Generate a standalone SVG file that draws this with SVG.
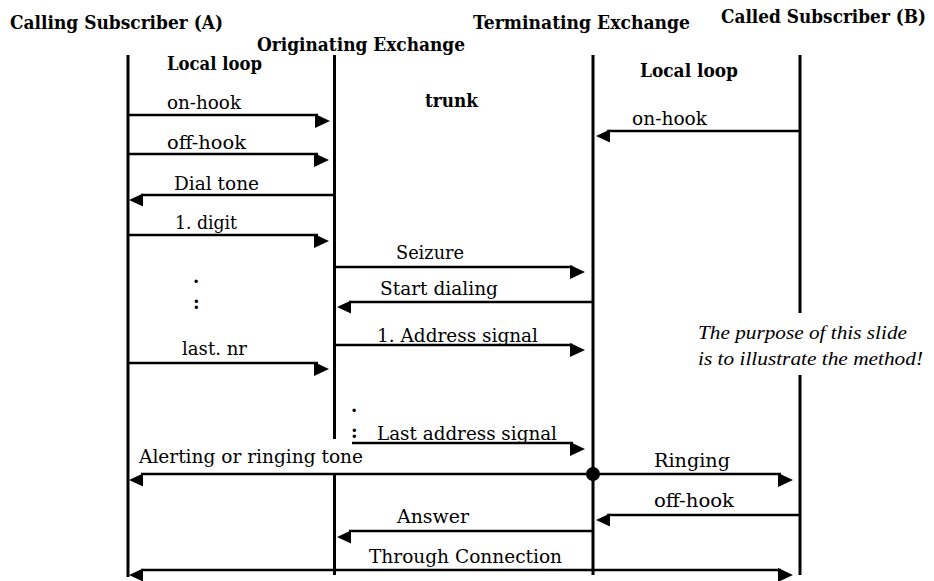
<svg xmlns="http://www.w3.org/2000/svg" xmlns:xlink="http://www.w3.org/1999/xlink" width="934" height="581" viewBox="0 0 934 581">
<style>
.life{stroke:#000;stroke-width:3;fill:none}
.msg{stroke:#000;stroke-width:2.6;fill:none}
.hd{font-family:"DejaVu Serif","Liberation Serif",serif;font-weight:bold;font-size:18px;fill:#000}
.lb{font-family:"DejaVu Serif","Liberation Serif",serif;font-size:18px;fill:#000}
.note{font-family:"Liberation Serif","DejaVu Serif",serif;font-style:italic;font-size:18px;fill:#000}
</style>
<defs>
<path id="ahR" d="M-15,-7 L0,0 L-15,7 Z" fill="#000"/>
<path id="ahL" d="M14,-6.5 L0,0 L14,6.5 Z" fill="#000"/>
</defs>
<rect width="934" height="581" fill="#fff"/>

<g id="subscriberA">
<line class="life" x1="128" y1="55" x2="128" y2="577"/>
<text class="hd" x="10" y="29" textLength="213" lengthAdjust="spacingAndGlyphs">Calling Subscriber (A)</text>
</g>
<g id="originatingExchange">
<line class="life" x1="334.5" y1="55" x2="334.5" y2="575"/>
<text class="hd" x="257" y="51" textLength="208" lengthAdjust="spacingAndGlyphs">Originating Exchange</text>
</g>
<g id="terminatingExchange">
<line class="life" x1="593" y1="55" x2="593" y2="575"/>
<text class="hd" x="473" y="29" textLength="217" lengthAdjust="spacingAndGlyphs">Terminating Exchange</text>
</g>
<g id="subscriberB">
<line class="life" x1="800" y1="55" x2="800" y2="313"/>
<line class="life" x1="800" y1="375" x2="800" y2="575"/>
<text class="hd" x="926" y="23" font-size="17" text-anchor="end" textLength="205" lengthAdjust="spacingAndGlyphs">Called Subscriber (B)</text>
</g>
<g id="sectionLabels">
<text class="hd" x="167" y="70" textLength="95" lengthAdjust="spacingAndGlyphs">Local loop</text>
<text class="hd" x="425" y="107" textLength="53" lengthAdjust="spacingAndGlyphs">trunk</text>
<text class="hd" x="640" y="77" textLength="98" lengthAdjust="spacingAndGlyphs">Local loop</text>
</g>
<g id="noteText">
<text class="note" x="698" y="339" textLength="209" lengthAdjust="spacingAndGlyphs">The purpose of this slide</text>
<text class="note" x="698" y="365" textLength="225" lengthAdjust="spacingAndGlyphs">is to illustrate the method!</text>
</g>

<g id="connectors">
<line class="msg" x1="128" y1="115" x2="318" y2="115"/><use href="#ahR" x="330" y="121"/>
<text class="lb" x="167" y="109" textLength="74" lengthAdjust="spacingAndGlyphs">on-hook</text>
<line class="msg" x1="128" y1="154" x2="318" y2="154"/><use href="#ahR" x="329" y="160"/>
<text class="lb" x="167" y="149" textLength="79" lengthAdjust="spacingAndGlyphs">off-hook</text>
<line class="msg" x1="334" y1="195" x2="141" y2="195"/><use href="#ahL" x="129" y="200"/>
<text class="lb" x="174" y="190" textLength="85" lengthAdjust="spacingAndGlyphs">Dial tone</text>
<line class="msg" x1="128" y1="235" x2="318" y2="235"/><use href="#ahR" x="329" y="241"/>
<text class="lb" x="175" y="229" textLength="62" lengthAdjust="spacingAndGlyphs">1. digit</text>
<line class="msg" x1="128" y1="363" x2="318" y2="363"/><use href="#ahR" x="329" y="369"/>
<text class="lb" x="182" y="355" textLength="65" lengthAdjust="spacingAndGlyphs">last. nr</text>
<text class="hd" x="193" y="283">.</text>
<text class="hd" x="193" y="309">:</text>

<line class="msg" x1="800" y1="131" x2="607" y2="131"/><use href="#ahL" x="596" y="136"/>
<text class="lb" x="632" y="125" textLength="75" lengthAdjust="spacingAndGlyphs">on-hook</text>

<line class="msg" x1="334" y1="267" x2="573" y2="267"/><use href="#ahR" x="585" y="272"/>
<text class="lb" x="396" y="259" textLength="68" lengthAdjust="spacingAndGlyphs">Seizure</text>
<line class="msg" x1="593" y1="302" x2="349" y2="302"/><use href="#ahL" x="337" y="307"/>
<text class="lb" x="380" y="295" textLength="118" lengthAdjust="spacingAndGlyphs">Start dialing</text>
<line class="msg" x1="334" y1="345" x2="573" y2="345"/><use href="#ahR" x="585" y="350"/>
<text class="lb" x="377" y="342" textLength="161" lengthAdjust="spacingAndGlyphs">1. Address signal</text>
<text class="hd" x="351" y="412">.</text>
<text class="hd" x="351" y="438">:</text>
<line class="msg" x1="334" y1="443" x2="573" y2="443"/><use href="#ahR" x="585" y="449"/>
<text class="lb" x="377" y="440" textLength="180" lengthAdjust="spacingAndGlyphs">Last address signal</text>

<rect x="130" y="439" width="222" height="34" fill="#fff"/>
<line class="msg" x1="593" y1="474" x2="141" y2="474"/><use href="#ahL" x="129" y="480"/>
<text class="lb" x="139" y="463" textLength="224" lengthAdjust="spacingAndGlyphs">Alerting or ringing tone</text>
<line class="msg" x1="593" y1="474" x2="781" y2="474"/><use href="#ahR" x="793" y="480"/>
<circle cx="593" cy="474" r="7" fill="#000"/>
<text class="lb" x="654" y="467" textLength="76" lengthAdjust="spacingAndGlyphs">Ringing</text>

<line class="msg" x1="800" y1="515" x2="607" y2="515"/><use href="#ahL" x="596" y="520"/>
<text class="lb" x="654" y="507" textLength="80" lengthAdjust="spacingAndGlyphs">off-hook</text>
<line class="msg" x1="593" y1="531" x2="349" y2="531"/><use href="#ahL" x="337" y="537"/>
<text class="lb" x="397" y="523" textLength="72" lengthAdjust="spacingAndGlyphs">Answer</text>
<line class="msg" x1="141" y1="570" x2="781" y2="570"/><use href="#ahL" x="129" y="575"/><use href="#ahR" x="793" y="575"/>
<text class="lb" x="369" y="563" textLength="193" lengthAdjust="spacingAndGlyphs">Through Connection</text>
</g>
</svg>
